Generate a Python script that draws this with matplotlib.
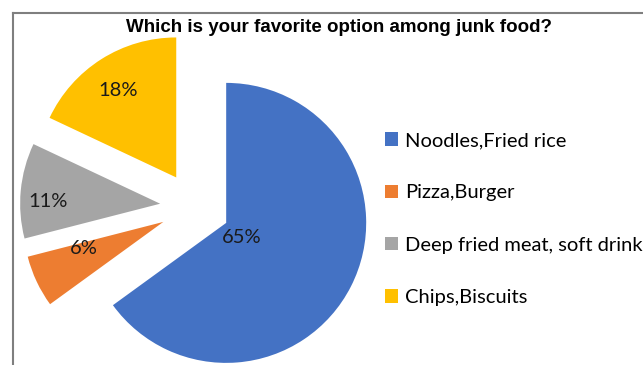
import matplotlib.pyplot as plt
import numpy as np

categories = ['Noodles,Fried rice', 'Pizza,Burger', 'Deep fried meat, soft drinks', 'Chips,Biscuits']
shares = [65, 6, 11, 18]
colors = ['#4472C4', '#ED7D31', '#A5A5A5', '#FFC000']
explode = [0.25, 0.25, 0.25, 0.25]
label_dist = [0.15, 0.6, 0.8, 0.75]
label_turn = [-16, -6.5, 4.5, 1.3]  # degrees off each wedge's middle angle

W, H = 643, 365
fig = plt.figure(figsize=(W / 100, H / 100), dpi=100)
ax = fig.add_axes([0, 0, 1, 1])

# pie centre (195, 207) px, radius 140 px
cx, cy, r = 195, 207, 140
wedges, texts, autotexts = ax.pie(shares, colors=colors, explode=explode, startangle=90,
                                  counterclock=False, autopct='%1.0f%%', pctdistance=0.75,
                                  textprops=dict(family='Lato', fontsize=14.5, color='#1a1a1a'))

# move percent labels around each wedge's middle angle
for w, t, e, d, a in zip(wedges, autotexts, explode, label_dist, label_turn):
    mid = np.deg2rad((w.theta1 + w.theta2) / 2)
    ang = mid + np.deg2rad(a)
    ox, oy = e * np.cos(mid), e * np.sin(mid)
    t.set_position((ox + d * np.cos(ang), oy + d * np.sin(ang)))

ax.set_xlim(-cx / r, (W - cx) / r)
ax.set_ylim((cy - H) / r, cy / r)
ax.set_aspect('auto')
ax.axis('off')

fig.text(339 / W, 1 - 28 / H, 'Which is your favorite option among junk food?',
         ha='center', va='center', fontsize=13.5, fontweight='bold', family='Liberation Sans')

fig.legend(wedges, categories, loc='center left', bbox_to_anchor=(385 / W, 1 - 219 / H),
           frameon=False, borderpad=0, borderaxespad=0, handlelength=0.65, handleheight=0.65,
           handletextpad=0.35, labelspacing=1.75, prop=dict(family='Lato', size=14.5))

# chart border (left and top edges)
fig.add_artist(plt.Line2D([13 / W, 13 / W], [0, 1 - 13 / H], color='#7f7f7f', lw=1.5))
fig.add_artist(plt.Line2D([13 / W, 1], [1 - 13 / H, 1 - 13 / H], color='#7f7f7f', lw=1.5))

fig.savefig('out.png', dpi=100)
